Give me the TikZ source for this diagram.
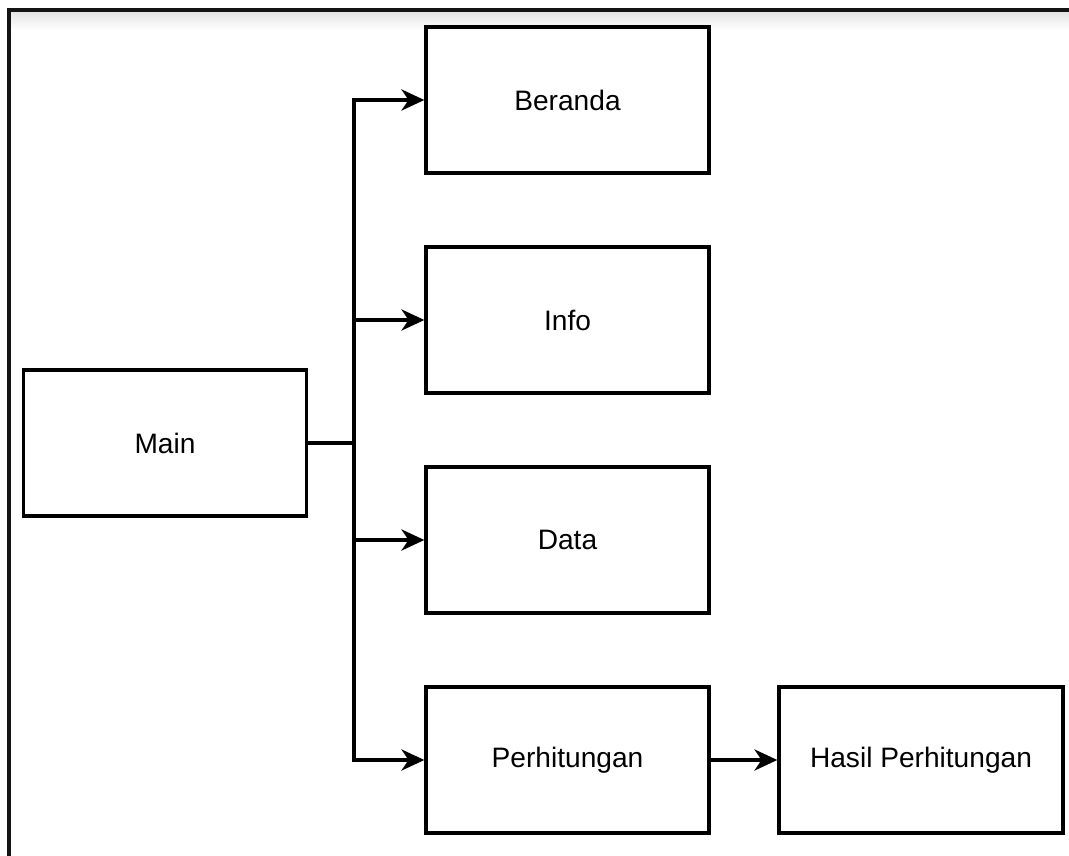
\documentclass[tikz,border=0pt]{standalone}
\usepackage{fontspec}
\setmainfont{Liberation Sans}
\usetikzlibrary{arrows.meta}
\definecolor{line_black}{RGB}{0,0,0}
\definecolor{frame_gray}{RGB}{20,20,20}
\definecolor{shadow_gray}{RGB}{228,228,228}

\begin{document}
\begin{tikzpicture}[line width=1.9pt,>={Stealth[length=13pt,width=12pt,inset=4pt]}]
    \tikzstyle{box}=[draw=line_black, rectangle, minimum width=5.66cm, minimum height=2.92cm, fill=white, text=black, font=\fontsize{16}{19}\selectfont]

    \useasboundingbox (0,0) rectangle (21.38,-17.12);
    % outer frame
    \shade[top color=shadow_gray, bottom color=white] (0.22,-0.24) rectangle (21.38,-0.6);
    \draw[frame_gray, line width=2.2pt] (21.5,-0.2) -- (0.18,-0.2) -- (0.18,-17.3);

    \node[box] (main)  at (3.30,-8.86)  {Main};
    \node[box] (beranda) at (11.35,-2.0)  {Beranda};
    \node[box] (info)  at (11.35,-6.4)  {Info};
    \node[box] (data)  at (11.35,-10.8) {Data};
    \node[box] (hitung) at (11.35,-15.2) {Perhitungan};
    \node[box, minimum width=5.68cm] (hasil) at (18.42,-15.2) {Hasil Perhitungan};
    \coordinate (split) at (7.08,-8.86);

    \draw (main) -- (split);
    \path
     (split) edge[->, to path={|- (\tikztotarget)}] (beranda)
     (split) edge[->, to path={|- (\tikztotarget)}] (info)
     (split) edge[->, to path={|- (\tikztotarget)}] (data)
     (split) edge[->, to path={|- (\tikztotarget)}] (hitung)
     (hitung) edge[->] (hasil)
     ;
\end{tikzpicture}
\end{document}
